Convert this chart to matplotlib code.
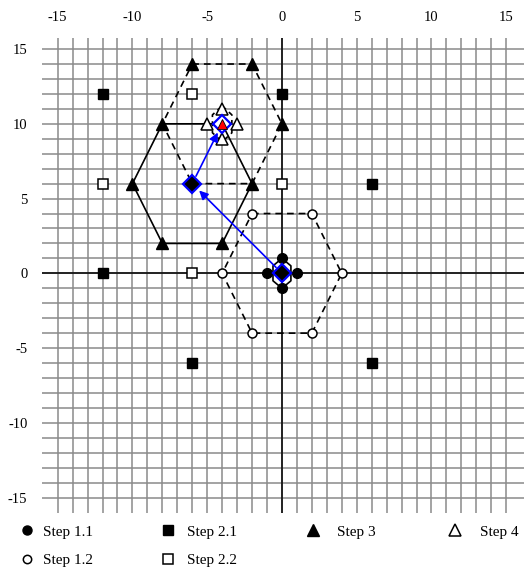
import numpy as np
import matplotlib
matplotlib.use("Agg")
import matplotlib.pyplot as plt
from matplotlib.lines import Line2D

plt.rcParams['font.family'] = ['Liberation Serif', 'DejaVu Serif']
plt.rcParams['axes.unicode_minus'] = False

# search points for each step
step11_x = [0, -1, 1, 0]
step11_y = [1, 0, 0, -1]
step12_x = [-2, 2, 4, 2, -2, -4]
step12_y = [4, 4, 0, -4, -4, 0]
step21_x = [-12, 0, -12, 6, -6, 6]
step21_y = [12, 12, 0, 6, -6, -6]
step22_x = [-6, -12, 0, -6]
step22_y = [12, 6, 6, 0]
step3_x = [-6, -2, -8, 0, -10, -2, -8, -4]
step3_y = [14, 14, 10, 10, 6, 6, 2, 2]
step4_x = [-4, -5, -3, -4]
step4_y = [11, 10, 10, 9]

# best match after each step
best_x = [0, -6, -4]
best_y = [0, 6, 10]
best_face = ['black', 'black', 'white']

# hexagon outlines (closed)
hex_small0_x = [0, 0.6, 0.6, 0, -0.6, -0.6, 0]
hex_small0_y = [1, 0.5, -0.5, -1, -0.5, 0.5, 1]
hex_large0_x = [-2, 2, 4, 2, -2, -4, -2]
hex_large0_y = [4, 4, 0, -4, -4, 0, 4]
hex_a_x = [-8, -4, -2, -4, -8, -10, -8]
hex_a_y = [10, 10, 6, 2, 2, 6, 10]
hex_b_x = [-6, -2, 0, -2, -6, -8, -6]
hex_b_y = [14, 14, 10, 6, 6, 10, 14]
hex_small1_x = [-4, -3.35, -3.35, -4, -4.65, -4.65, -4]
hex_small1_y = [11.2, 10.6, 9.4, 8.8, 9.4, 10.6, 11.2]

fig = plt.figure(figsize=(5.24, 5.68), dpi=100)
ax = fig.add_axes([42/524, 55/568, 482/524, 475/568])
ax.set_xlim(-16.05, 16.19)
ax.set_ylim(-16.03, 15.74)

for s in ax.spines.values():
    s.set_visible(False)
ax.xaxis.tick_top()
ax.set_xticks(range(-15, 16, 5))
ax.set_yticks(range(-15, 16, 5))
ax.tick_params(length=0, labelsize=10.5, colors='black')
ax.tick_params(axis='x', pad=10)
ax.tick_params(axis='y', pad=10.5)

grid = np.arange(-15, 16)
for g in grid:
    ax.axvline(g, color='#8a8a8a', lw=1.1, zorder=0)
    ax.axhline(g, color='#8a8a8a', lw=1.1, zorder=0)
ax.axvline(0, color='black', lw=1.1, zorder=0.5)
ax.axhline(0, color='black', lw=1.1, zorder=0.5)

lk = dict(color='black', lw=1.2, zorder=1)
ax.plot(hex_small0_x, hex_small0_y, **lk)
ax.plot(hex_large0_x, hex_large0_y, ls=(0, (4, 3)), **lk)
ax.plot(hex_a_x, hex_a_y, **lk)
ax.plot(hex_b_x, hex_b_y, ls=(0, (4, 3)), **lk)
ax.plot(hex_small1_x, hex_small1_y, ls=(0, (3, 2.5)), **lk)

ax.plot(step11_x, step11_y, 'o', ms=7, color='black', zorder=3)
ax.plot(step12_x, step12_y, 'o', ms=6.5, mfc='white', mec='black', mew=1.1, zorder=3)
ax.plot(step21_x, step21_y, 's', ms=7, color='black', zorder=3)
ax.plot(step22_x, step22_y, 's', ms=7, mfc='white', mec='black', mew=1.1, zorder=3)
ax.plot(step3_x, step3_y, '^', ms=8.5, color='black', zorder=3)
ax.plot(step4_x, step4_y, '^', ms=8.5, mfc='white', mec='black', mew=1.1, zorder=3)

# path of best matches
for i in range(len(best_x) - 1):
    ax.annotate('', xy=(best_x[i+1], best_y[i+1]), xytext=(best_x[i], best_y[i]),
                arrowprops=dict(arrowstyle='-|>', color='blue', lw=1.2,
                                mutation_scale=13, shrinkA=6, shrinkB=7),
                zorder=4)
for bx, by, fc in zip(best_x, best_y, best_face):
    ax.plot(bx, by, 'D', ms=9.5, mfc=fc, mec='blue', mew=1.6, zorder=5)
ax.plot(best_x[-1], best_y[-1], '^', ms=7, color='red', mec='black', mew=0.6, zorder=6)

# legend laid out in four columns below the grid
fs = 11
h11 = Line2D([], [], ls='none', marker='o', ms=6.5, color='black')
h12 = Line2D([], [], ls='none', marker='o', ms=6, mfc='white', mec='black', mew=1.1)
h21 = Line2D([], [], ls='none', marker='s', ms=6.5, color='black')
h22 = Line2D([], [], ls='none', marker='s', ms=6.5, mfc='white', mec='black', mew=1.1)
h3 = Line2D([], [], ls='none', marker='^', ms=8, color='black')
h4 = Line2D([], [], ls='none', marker='^', ms=8, mfc='white', mec='black', mew=1.1)
cols = [([h11, h12], ['Step 1.1', 'Step 1.2'], 19.4, 0.54),
        ([h21, h22], ['Step 2.1', 'Step 2.2'], 160.4, 0.74),
        ([h3], ['Step 3'], 305.4, 1.07),
        ([h4], ['Step 4'], 447.4, 1.15)]
for handles, labels, x0, pad in cols:
    leg = fig.legend(handles, labels, loc='upper left',
                     bbox_to_anchor=(x0/524, 1 - 525/568), frameon=False,
                     fontsize=fs, handlelength=1.0, handletextpad=pad,
                     borderpad=0, borderaxespad=0, labelspacing=0.95)

fig.savefig('out.png', dpi=100)
